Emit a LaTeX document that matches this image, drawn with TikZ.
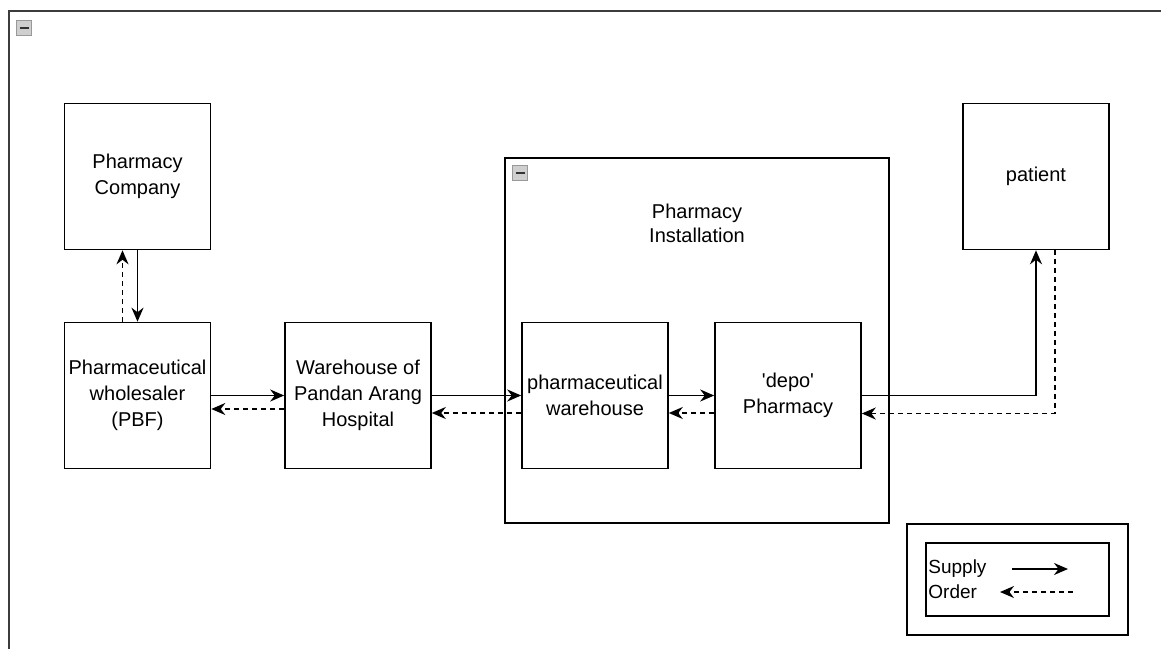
\documentclass[tikz,border=0pt]{standalone}
\usepackage{fontspec}
\setmainfont{Liberation Sans}
\usetikzlibrary{arrows.meta, positioning}
\definecolor{framegray}{HTML}{3C3C3C}
\definecolor{icongray}{HTML}{CFCFCF}

\begin{document}
\begin{tikzpicture}[
  x=0.5pt, y=-0.5pt,
  box/.style={rectangle, draw=black, line width=0.8pt,
              minimum width=73pt, minimum height=73pt,
              font=\fontsize{10}{13}\selectfont, align=center, inner sep=1pt},
  group/.style={rectangle, draw=black, line width=0.8pt, inner sep=0pt},
  supply/.style={-{Stealth[length=7pt,width=6pt]}, line width=0.9pt},
  order/.style={supply, dash pattern=on 2.5pt off 2pt},
  collapse/.style={rectangle, draw=gray!80, fill=icongray, minimum size=7.5pt,
                   inner sep=0pt,
                   path picture={\draw[line width=1.2pt, black!80]
                     ([xshift=1.5pt]path picture bounding box.west) --
                     ([xshift=-1.5pt]path picture bounding box.east);}},
]
  \useasboundingbox (0,0) rectangle (1161,648);
  \clip (0,0) rectangle (1161,648);
  % outer frame, cut by the page
  \draw[framegray, line width=1.1pt] (9,11) rectangle (1180,680);
  \node[collapse] (icon1) at (24,28) {};

  % pharmacy installation group
  \node[group, minimum width=192pt, minimum height=182.5pt] (install) at (697,340.5) {};
  \node[collapse] (icon2) at (520,173) {};
  \node[font=\fontsize{10}{12}\selectfont, align=center] (installtext) at (697,223)
    {Pharmacy\\Installation};

  \node[box] (company) at (137.5,176.5) {Pharmacy\\Company};
  \node[box] (wholesaler) at (137.5,395.5) {Pharmaceutical\\wholesaler\\(PBF)};
  \node[box] (hospital) at (358,395.5) {Warehouse of\\Pandan Arang\\Hospital};
  \node[box] (pwarehouse) at (595,395.5) {pharmaceutical\\warehouse};
  \node[box] (depo) at (788,395.5) {\textquotesingle depo\textquotesingle\\Pharmacy};
  \node[box] (patient) at (1036,176.5) {patient};

  \draw[supply] (company) -- (wholesaler);
  \draw[order] ([xshift=-7.5pt]wholesaler.north) -- ([xshift=-7.5pt]company.south);
  \draw[supply] (wholesaler) -- (hospital);
  \draw[order] ([yshift=-6.75pt]hospital.west) -- ([yshift=-6.75pt]wholesaler.east);
  \draw[supply] (hospital) -- (pwarehouse);
  \draw[order] ([yshift=-8.75pt]pwarehouse.west) -- ([yshift=-8.75pt]hospital.east);
  \draw[supply] (pwarehouse) -- (depo);
  \draw[order] ([yshift=-8.75pt]depo.west) -- ([yshift=-8.75pt]pwarehouse.east);
  \draw[supply] (depo.east) -| (patient.south);
  \draw[order] ([xshift=9.5pt]patient.south) |- ([yshift=-9pt]depo.east);

  % legend
  \node[group, minimum width=110.5pt, minimum height=55.5pt] (legendout) at (1017.5,579.5) {};
  \node[group, minimum width=91.5pt, minimum height=36.5pt] (legendin) at (1017.5,579.5) {};
  \node[anchor=west, inner sep=0pt, font=\fontsize{9.5}{11}\selectfont] (supplytext) at (928,569) {Supply};
  \node[anchor=west, inner sep=0pt, font=\fontsize{9.5}{11}\selectfont] (ordertext) at (928,592) {Order};
  \coordinate (s1) at (1012,569);
  \coordinate (s2) at (1068,569);
  \coordinate (o1) at (1073,592);
  \coordinate (o2) at (1000,592);
  \draw[supply] (s1) -- (s2);
  \draw[order] (o1) -- (o2);
\end{tikzpicture}
\end{document}
